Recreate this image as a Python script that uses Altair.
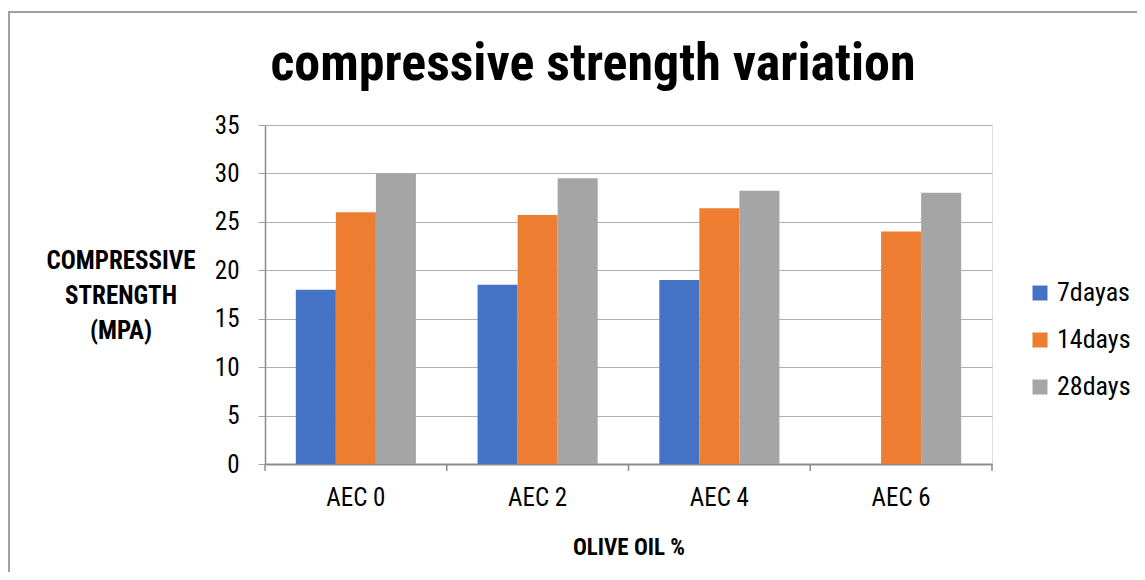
import altair as alt
import pandas as pd

categories = ["AEC 0", "AEC 2", "AEC 4", "AEC 6"]
series = ["7dayas", "14days", "28days"]
d7 = [18, 18.5, 19, 0]
d14 = [26, 25.7, 26.4, 24]
d28 = [30, 29.5, 28.2, 28]
colors = ["#4472C4", "#ED7D31", "#A5A5A5"]
y_ticks = [0, 5, 10, 15, 20, 25, 30, 35]

rows = []
for name, vals in zip(series, [d7, d14, d28]):
    for c, v in zip(categories, vals):
        rows.append({"cat": c, "series": name, "value": v})
df = pd.DataFrame(rows)
cats_df = pd.DataFrame({"cat": categories})

FONT = "Liberation Sans Narrow, Roboto Condensed, Arial Narrow, Liberation Sans, sans-serif"
W, H = 727, 339

xscale = alt.Scale(domain=categories, paddingInner=0, paddingOuter=0)

bars = alt.Chart(df).mark_bar().encode(
    x=alt.X("cat:N", sort=categories, scale=xscale,
            axis=alt.Axis(title="OLIVE OIL %", labelAngle=0, ticks=False,
                          labelFontSize=25, labelPadding=21, labelColor="#000",
                          labelFont=FONT, titleFont=FONT, titleFontSize=23,
                          titleFontWeight="bold", titleColor="#000", titlePadding=26,
                          domainColor="#8c8c8c", domainWidth=2, grid=False)),
    xOffset=alt.XOffset("series:N", sort=series,
                        scale=alt.Scale(paddingInner=0, paddingOuter=0.77)),
    y=alt.Y("value:Q", scale=alt.Scale(domain=[0, 35], nice=False),
            axis=alt.Axis(title=None, values=y_ticks, labelFontSize=25,
                          labelFont=FONT, labelColor="#000", labelPadding=19,
                          tickSize=7, tickColor="#a6a6a6", domainColor="#8c8c8c",
                          domainWidth=1.5, gridColor="#b0b0b0", gridWidth=1)),
    color=alt.Color("series:N", sort=series,
                    scale=alt.Scale(domain=series, range=colors),
                    legend=alt.Legend(title=None, orient="none", legendX=762,
                                      legendY=155, symbolType="square",
                                      symbolSize=225, symbolStrokeWidth=0,
                                      labelFontSize=26, labelFont=FONT,
                                      labelColor="#000", labelOffset=4,
                                      rowPadding=21, padding=0)),
)

sep_ticks = alt.Chart(cats_df).mark_rule(color="#8c8c8c", strokeWidth=1.5).encode(
    x=alt.X("cat:N", sort=categories, scale=xscale, bandPosition=0),
    y=alt.value(H), y2=alt.value(H + 7),
)
end_tick = alt.Chart(cats_df.head(1)).mark_rule(color="#8c8c8c", strokeWidth=1.5).encode(
    x=alt.value(W), y=alt.value(H), y2=alt.value(H + 7),
)

title = alt.Chart(cats_df.head(1)).mark_text(
    text="compressive strength variation", font=FONT, fontSize=52,
    fontWeight="bold", color="#000", align="center", baseline="alphabetic",
).encode(x=alt.value(328), y=alt.value(-45))

ytitle = alt.Chart(cats_df.head(1)).mark_text(
    text=["COMPRESSIVE", "STRENGTH", "(MPA)"], font=FONT, fontSize=25,
    fontWeight="bold", color="#000", align="center", baseline="middle",
    lineHeight=35,
).encode(x=alt.value(-144), y=alt.value(136))

frame_left = alt.Chart(cats_df.head(1)).mark_rule(color="#a0a0a0", strokeWidth=2, clip=False).encode(
    x=alt.value(-256), y=alt.value(-113), y2=alt.value(H + 120),
)
frame_top = alt.Chart(cats_df.head(1)).mark_rule(color="#a0a0a0", strokeWidth=2, clip=False).encode(
    x=alt.value(-257), x2=alt.value(W + 150), y=alt.value(-113),
)

chart = alt.layer(bars, sep_ticks, end_tick, title, ytitle, frame_left, frame_top).properties(
    width=W, height=H,
    autosize=alt.AutoSizeParams(type="none"),
    padding={"left": 257, "top": 117, "right": 145, "bottom": 108},
).configure_view(stroke=None).configure(background="white")

chart.save("out.html", embed_options={"renderer": "svg", "actions": False})
